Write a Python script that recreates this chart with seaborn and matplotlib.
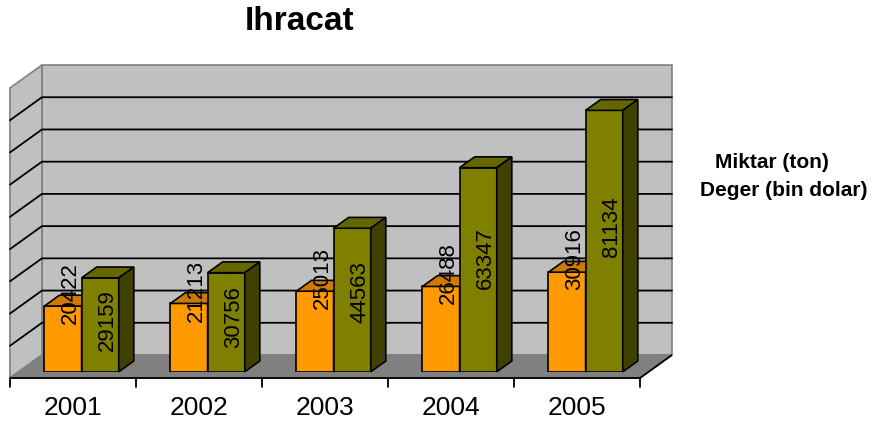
import numpy as np
import pandas as pd
import matplotlib
matplotlib.use("Agg")
import matplotlib.pyplot as plt
import seaborn as sns
from matplotlib.patches import Polygon

# ---------------- data ----------------
years = ["2001", "2002", "2003", "2004", "2005"]
miktar = [20422, 21213, 25013, 26488, 30916]
deger = [29159, 30756, 44563, 63347, 81134]
series_names = ["Miktar (ton)", "Deger (bin dolar)"]
title = "Ihracat"
y_max = 90000
y_step = 10000

df = pd.DataFrame({
    "year": years * 2,
    "value": miktar + deger,
    "series": [series_names[0]] * len(years) + [series_names[1]] * len(years),
})

# ---------------- style ----------------
sns.set_style("white")
plt.rcParams['font.family'] = ['Liberation Sans', 'DejaVu Sans']
plt.rcParams['text.color'] = 'black'

W, H = 876, 427
fig = plt.figure(figsize=(W / 100, H / 100), dpi=100)

# pixel frame of the "bar front plane"
px_left, px_right = 18.6, 648.6
px_bottom, px_top = 372.8, 82.8
ax = fig.add_axes([px_left / W, 1 - px_bottom / H,
                   (px_right - px_left) / W, (px_bottom - px_top) / H])

front_cols = ["#FF9900", "#808000"]
top_cols = ["#CC7A00", "#666600"]
side_cols = ["#995C00", "#404000"]

sns.barplot(data=df, x="year", y="value", hue="series", order=years,
            hue_order=series_names, palette=front_cols, saturation=1,
            width=0.59, edgecolor="black", linewidth=1.2, legend=False, ax=ax)

ax.set_xlim(-0.5, len(years) - 0.5)
ax.set_ylim(0, y_max)
ax.axis("off")

n = len(years)
cat_px = (px_right - px_left) / n
val_px = (px_bottom - px_top) / y_max
ddx = 32 / cat_px          # full depth vector in data units
ddy = 23 / val_px
f_front = 0.27             # bar plane lies this fraction behind floor front
fb = 0.47                  # bar depth fraction
fx0, fy0 = -f_front * ddx, -f_front * ddy
bx0, by0 = (1 - f_front) * ddx, (1 - f_front) * ddy
bdx, bdy = fb * ddx, fb * ddy

xl, xr = -0.5, n - 0.5
wall_c = "#C0C0C0"
floor_c = "#808080"
edge_c = "#808080"

# back wall
ax.add_patch(Polygon([(xl + bx0, by0), (xr + bx0, by0), (xr + bx0, y_max + by0),
                      (xl + bx0, y_max + by0)], closed=True, facecolor=wall_c,
                     edgecolor=edge_c, lw=1.2, zorder=0, clip_on=False))
# left wall
ax.add_patch(Polygon([(xl + fx0, fy0), (xl + bx0, by0), (xl + bx0, y_max + by0),
                      (xl + fx0, y_max + fy0)], closed=True, facecolor=wall_c,
                     edgecolor=edge_c, lw=1.2, zorder=0, clip_on=False))
# floor
ax.add_patch(Polygon([(xl + fx0, fy0), (xr + fx0, fy0), (xr + bx0, by0),
                      (xl + bx0, by0)], closed=True, facecolor=floor_c,
                     edgecolor=edge_c, lw=1.2, zorder=0.5, clip_on=False))
# floor front & right edges (black axis)
ax.plot([xl + fx0, xr + fx0, xr + bx0], [fy0, fy0, by0], color="black",
        lw=1.3, zorder=1, clip_on=False, solid_capstyle="butt")

# gridlines on back & left wall
for v in range(y_step, y_max, y_step):
    ax.plot([xl + fx0, xl + bx0, xr + bx0], [v + fy0, v + by0, v + by0],
            color="black", lw=1.3, zorder=1, clip_on=False)

# category tick marks on front axis
tick_len = 9 / val_px
for b in np.arange(xl, xr + 0.01, 1.0):
    ax.plot([b + fx0, b + fx0], [fy0, fy0 - tick_len], color="black",
            lw=1.3, zorder=1, clip_on=False)

# year labels
for i, yr in enumerate(years):
    ax.text(i + fx0, fy0 - 29 / val_px, yr, ha="center", va="center",
            fontsize=19, color="black", clip_on=False)

# 3-D faces for each bar + data labels
for p in list(ax.patches)[:]:
    if not isinstance(p, matplotlib.patches.Rectangle):
        continue
    x0, w, h = p.get_x(), p.get_width(), p.get_height()
    if w <= 0 or h <= 0:
        continue
    xc = x0 + w / 2
    k = 0 if xc < round(xc) else 1
    z = 3 + k
    p.set_zorder(z)
    x1 = x0 + w
    ax.add_patch(Polygon([(x0, h), (x1, h), (x1 + bdx, h + bdy), (x0 + bdx, h + bdy)],
                         closed=True, facecolor=top_cols[k], edgecolor="black",
                         lw=1.2, zorder=z, clip_on=False))
    ax.add_patch(Polygon([(x1, 0), (x1 + bdx, bdy), (x1 + bdx, h + bdy), (x1, h)],
                         closed=True, facecolor=side_cols[k], edgecolor="black",
                         lw=1.2, zorder=z, clip_on=False))
    if k == 0:
        ax.annotate(f"{int(round(h))}", (xc + bdx / 2, h), xytext=(0, 10),
                    textcoords="offset points", rotation=90, ha="center",
                    va="center", fontsize=16, color="black", zorder=6,
                    annotation_clip=False)
    else:
        ax.text(xc + bdx / 2, h * 0.56, f"{int(round(h))}", rotation=90,
                ha="center", va="center", fontsize=16, color="black", zorder=6)

# title and legend texts
fig.text(300 / W, 1 - 22 / H, title, ha="center", va="center",
         fontsize=24, fontweight="bold", color="black")
fig.text(715 / W, 1 - 163 / H, series_names[0], ha="left", va="center",
         fontsize=15, fontweight="bold", color="black")
fig.text(700 / W, 1 - 190 / H, series_names[1], ha="left", va="center",
         fontsize=15, fontweight="bold", color="black")

fig.savefig("out.png", dpi=100)
